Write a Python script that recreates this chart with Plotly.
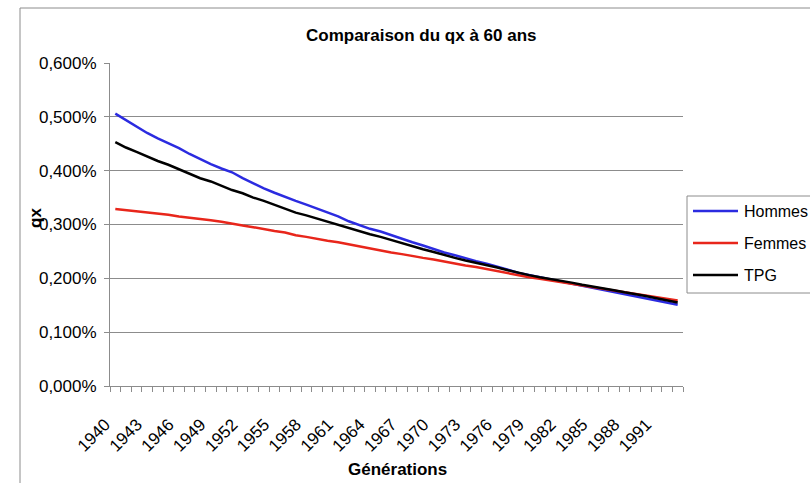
import numpy as np
import plotly.graph_objects as go

years = list(range(1940, 1994))

hommes_pct = [0.506, 0.494, 0.4815, 0.470, 0.460, 0.451, 0.442, 0.431, 0.421, 0.412,
              0.404, 0.397, 0.386, 0.376, 0.367, 0.359, 0.351, 0.344, 0.337, 0.330,
              0.322, 0.315, 0.306, 0.299, 0.292, 0.287, 0.280, 0.273, 0.267, 0.261,
              0.254, 0.248, 0.243, 0.237, 0.232, 0.227, 0.222, 0.216, 0.210, 0.206,
              0.202, 0.199, 0.195, 0.191, 0.187, 0.182, 0.178, 0.174, 0.170, 0.166,
              0.163, 0.159, 0.155, 0.151]

femmes_pct = [0.329, 0.327, 0.325, 0.322, 0.320, 0.318, 0.315, 0.313, 0.310, 0.308,
              0.305, 0.301, 0.298, 0.295, 0.291, 0.288, 0.285, 0.280, 0.277, 0.273,
              0.270, 0.267, 0.263, 0.259, 0.255, 0.252, 0.248, 0.245, 0.241, 0.238,
              0.235, 0.231, 0.228, 0.224, 0.221, 0.217, 0.213, 0.210, 0.206, 0.202,
              0.199, 0.196, 0.193, 0.190, 0.186, 0.183, 0.180, 0.177, 0.174, 0.171,
              0.168, 0.165, 0.162, 0.159]

tpg_pct = [0.453, 0.443, 0.435, 0.426, 0.418, 0.411, 0.403, 0.395, 0.386, 0.380,
           0.372, 0.364, 0.358, 0.350, 0.344, 0.337, 0.329, 0.322, 0.317, 0.311,
           0.305, 0.299, 0.294, 0.288, 0.282, 0.277, 0.271, 0.266, 0.260, 0.254,
           0.249, 0.243, 0.238, 0.233, 0.229, 0.224, 0.220, 0.215, 0.210, 0.206,
           0.202, 0.199, 0.195, 0.192, 0.188, 0.185, 0.181, 0.178, 0.174, 0.171,
           0.167, 0.163, 0.159, 0.155]

series_names = ["Hommes", "Femmes", "TPG"]
series_colors = ["#2b2be0", "#e8261b", "#000000"]
x_tickvals = list(range(1940, 1992, 3))
y_tickvals = [0.0, 0.001, 0.002, 0.003, 0.004, 0.005, 0.006]

W, H = 810, 483
L, R, T, B = 110, 683, 63, 386
FONT = "Liberation Sans, Arial, sans-serif"


def xp(px):
    return (px - L) / (R - L)


def yp(py):
    return (B - py) / (B - T)


fig = go.Figure()
for name, vals, col in zip(series_names, [hommes_pct, femmes_pct, tpg_pct], series_colors):
    fig.add_trace(go.Scatter(
        x=years, y=np.array(vals) / 100.0, mode="lines", name=name,
        line=dict(color=col, width=2.5), showlegend=False,
    ))

shapes = []
# outer chart border
shapes.append(dict(type="rect", xref="paper", yref="paper",
                   x0=xp(20), x1=xp(830), y0=yp(8), y1=yp(500),
                   line=dict(color="#8c8c8c", width=1), fillcolor="rgba(0,0,0,0)", layer="below"))
# legend box
shapes.append(dict(type="rect", xref="paper", yref="paper",
                   x0=xp(687), x1=xp(830), y0=yp(196), y1=yp(293),
                   line=dict(color="#8c8c8c", width=1), fillcolor="white"))
leg_y = [211, 243, 275]
annotations = []
for name, col, ly in zip(series_names, series_colors, leg_y):
    shapes.append(dict(type="line", xref="paper", yref="paper",
                       x0=xp(693), x1=xp(738), y0=yp(ly), y1=yp(ly),
                       line=dict(color=col, width=2.5)))
    annotations.append(dict(text=name, xref="paper", yref="paper", x=xp(742), y=yp(ly),
                            xanchor="left", yanchor="middle", showarrow=False,
                            font=dict(family=FONT, size=16, color="black")))

annotations.append(dict(text="<b>qx</b>", xref="paper", yref="paper", x=xp(35), y=yp(218),
                        xanchor="center", yanchor="middle", showarrow=False, textangle=-90,
                        font=dict(family=FONT, size=17, color="black")))
annotations.append(dict(text="<b>Générations</b>", xref="paper", yref="paper", x=xp(397), y=yp(470),
                        xanchor="center", yanchor="middle", showarrow=False,
                        font=dict(family=FONT, size=17, color="black")))
annotations.append(dict(text="<b>Comparaison du qx à 60 ans</b>", xref="paper", yref="paper",
                        x=xp(421), y=yp(35), xanchor="center", yanchor="middle", showarrow=False,
                        font=dict(family=FONT, size=17, color="black")))

fig.update_layout(
    width=W, height=H,
    margin=dict(l=L, r=W - R, t=T, b=H - B, autoexpand=False),
    paper_bgcolor="white", plot_bgcolor="white",
    separators=", ",
    font=dict(family=FONT, size=17, color="black"),
    shapes=shapes, annotations=annotations,
    xaxis=dict(
        range=[1939.5, 1993.5], tickmode="array", tickvals=x_tickvals,
        ticktext=[str(v) for v in x_tickvals], tickangle=-45,
        showgrid=False, zeroline=False, showline=True, linecolor="#8c8c8c", linewidth=1,
        ticks="outside", ticklen=21, tickcolor="rgba(0,0,0,0)",
        tickfont=dict(family=FONT, size=17, color="black"),
        ticklabelshift=-10,
        minor=dict(ticks="outside", tick0=1939.5, dtick=1, ticklen=5,
                   tickcolor="#8c8c8c", showgrid=False),
    ),
    yaxis=dict(
        range=[0, 0.006], tickmode="array", tickvals=y_tickvals, tickformat=".3%",
        showgrid=True, gridcolor="#8c8c8c", gridwidth=1, zeroline=False,
        showline=True, linecolor="#8c8c8c", linewidth=1,
        ticks="outside", ticklen=5, tickcolor="#8c8c8c", ticklabelstandoff=4,
        tickfont=dict(family=FONT, size=17, color="black"),
    ),
)

fig.write_html("out.html")
